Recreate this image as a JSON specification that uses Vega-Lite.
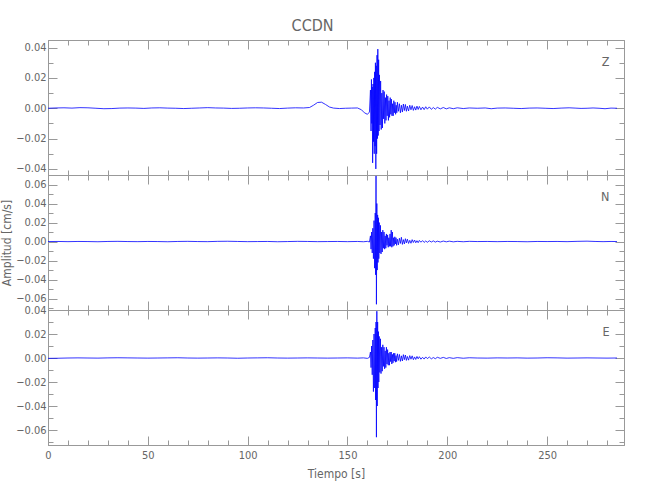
{
  "$schema": "https://vega.github.io/schema/vega-lite/v6.json",
  "padding": {"left": 0, "top": 18, "right": 5, "bottom": 5},
  "background": "white",
  "title": {"text": "CCDN", "fontSize": 16, "color": "#666666", "fontWeight": "normal", "font": "DejaVu Sans Condensed, sans-serif", "anchor": "middle", "offset": 5},
  "spacing": 0,
  "bounds": "flush",
  "config": {
    "view": {"stroke": "#999999", "strokeWidth": 1},
    "axis": {
      "labelColor": "#666666", "labelFontSize": 11, "labelFont": "DejaVu Sans Condensed, sans-serif",
      "titleFont": "DejaVu Sans Condensed, sans-serif", "titleColor": "#666666", "titleFontWeight": "normal", "titleFontSize": 12,
      "domainColor": "#999999", "tickColor": "#999999", "grid": false, "labelOverlap": false, "labelFlush": false
    },
    "axisX": {"minExtent": 0},
    "axisY": {"minExtent": 0}
  },
  "datasets": {
    "Z": [
      {"t":0,"v":0.0000},{"t":4,"v":0.0002},{"t":8,"v":0.0003},{"t":12,"v":0.0001},{"t":16,"v":0.0004},{"t":20,"v":0.0003},{"t":24,"v":0.0000},{"t":28,"v":-0.0003},{"t":32,"v":-0.0002},{"t":36,"v":0.0001},{"t":40,"v":0.0002},{"t":44,"v":0.0001},{"t":48,"v":-0.0001},{"t":52,"v":0.0002},{"t":56,"v":0.0003},{"t":60,"v":0.0001},{"t":64,"v":0.0000},{"t":68,"v":-0.0002},{"t":72,"v":0.0000},{"t":76,"v":0.0002},{"t":80,"v":0.0004},{"t":84,"v":0.0002},{"t":88,"v":0.0001},{"t":92,"v":-0.0001},{"t":96,"v":0.0000},{"t":100,"v":0.0002},{"t":104,"v":0.0003},{"t":108,"v":0.0002},{"t":112,"v":0.0000},{"t":116,"v":-0.0002},{"t":120,"v":0.0001},{"t":124,"v":0.0003},{"t":128,"v":0.0002},{"t":131,"v":0.0005},{"t":133,"v":0.0020},{"t":135,"v":0.0038},{"t":137,"v":0.0040},{"t":139,"v":0.0025},{"t":141,"v":0.0008},{"t":143,"v":0.0001},{"t":146,"v":-0.0002},{"t":149,"v":0.0000},{"t":152,"v":0.0001},{"t":155,"v":0.0002},{"t":157,"v":-0.0010},{"t":158.5,"v":-0.0030},{"t":160,"v":-0.0040},{"t":161,"v":-0.0025},
      {"t":161.5,"v":0.012},{"t":161.8,"v":-0.015},{"t":162.0,"v":0.019},{"t":162.2,"v":-0.010},{"t":162.4,"v":0.014},{"t":162.6,"v":-0.036},{"t":162.8,"v":0.016},{"t":163.0,"v":-0.022},{"t":163.2,"v":0.020},{"t":163.4,"v":-0.030},{"t":163.6,"v":0.024},{"t":163.8,"v":-0.025},{"t":164.0,"v":0.030},{"t":164.2,"v":-0.040},{"t":164.4,"v":0.028},{"t":164.6,"v":-0.030},{"t":164.8,"v":0.035},{"t":165.0,"v":-0.020},{"t":165.2,"v":0.039},{"t":165.4,"v":-0.018},{"t":165.6,"v":0.032},{"t":165.8,"v":-0.015},{"t":166.0,"v":0.022},{"t":166.3,"v":-0.011},{"t":166.6,"v":0.018},{"t":166.9,"v":-0.014},{"t":167.2,"v":0.010},{"t":167.5,"v":-0.013},{"t":167.8,"v":0.012},{"t":168.1,"v":-0.007},{"t":168.4,"v":0.011},{"t":168.7,"v":-0.010},{"t":169.0,"v":0.007},{"t":169.3,"v":-0.008},{"t":169.6,"v":0.009},{"t":169.9,"v":-0.005},{"t":170.2,"v":0.008},{"t":170.5,"v":-0.008},{"t":170.8,"v":0.005},{"t":171.1,"v":-0.006},{"t":171.4,"v":0.007},{"t":171.7,"v":-0.004},{"t":172.0,"v":0.006},{"t":172.3,"v":-0.005},{"t":172.6,"v":0.003},{"t":172.9,"v":-0.005},{"t":173.2,"v":0.005},{"t":173.5,"v":-0.003},{"t":173.8,"v":0.004},{"t":174.1,"v":-0.004},{"t":174.4,"v":0.002},{"t":174.7,"v":-0.003},{"t":175.0,"v":0.004},{"t":175.5,"v":-0.002},{"t":176.0,"v":0.003},{"t":176.5,"v":-0.003},{"t":177.0,"v":0.002},{"t":177.5,"v":-0.0025},{"t":178.0,"v":0.0028},{"t":178.5,"v":-0.0015},{"t":179.0,"v":0.0025},{"t":179.5,"v":-0.002},{"t":180.0,"v":0.0014},{"t":180.6,"v":-0.0018},{"t":181.2,"v":0.002},{"t":181.8,"v":-0.001},{"t":182.4,"v":0.0018},{"t":183.0,"v":-0.0014},{"t":183.6,"v":0.001},{"t":184.2,"v":-0.0012},{"t":184.8,"v":0.0014},{"t":185.4,"v":-0.0008},{"t":186.0,"v":0.0012},{"t":186.8,"v":-0.001},{"t":187.6,"v":0.0008},{"t":188.4,"v":-0.0009},{"t":189.2,"v":0.001},{"t":190.0,"v":-0.0006},{"t":191,"v":0.0009},{"t":192,"v":-0.0007},{"t":193,"v":0.0005},{"t":194,"v":-0.0006},{"t":195,"v":0.0006},{"t":196.5,"v":-0.0004},{"t":198,"v":0.0005},{"t":199.5,"v":-0.0004},{"t":201,"v":0.0003},{"t":203,"v":-0.0003},{"t":205,"v":0.0003},{"t":208,"v":-0.0002},{"t":211,"v":0.0002},{"t":215,"v":0.0000},{"t":219,"v":0.0002},{"t":222,"v":-0.0003},{"t":225,"v":0.0001},{"t":229,"v":0.0002},{"t":233,"v":0.0000},{"t":237,"v":-0.0002},{"t":241,"v":0.0001},{"t":245,"v":0.0002},{"t":249,"v":0.0000},{"t":253,"v":-0.0002},{"t":257,"v":0.0001},{"t":261,"v":0.0003},{"t":264,"v":0.0001},{"t":267,"v":-0.0001},{"t":270,"v":0.0000},{"t":273,"v":0.0002},{"t":276,"v":0.0000},{"t":279,"v":-0.0003},{"t":282,"v":0.0001},{"t":285,"v":0.0000}
    ],
    "N": [
      {"t":0,"v":0.0000},{"t":5,"v":0.0001},{"t":10,"v":-0.0001},{"t":15,"v":0.0001},{"t":20,"v":0.0000},{"t":25,"v":-0.0002},{"t":30,"v":0.0001},{"t":35,"v":0.0002},{"t":40,"v":0.0000},{"t":45,"v":-0.0001},{"t":50,"v":0.0001},{"t":55,"v":0.0000},{"t":60,"v":-0.0002},{"t":65,"v":0.0001},{"t":70,"v":0.0002},{"t":75,"v":0.0000},{"t":80,"v":-0.0001},{"t":85,"v":0.0002},{"t":90,"v":0.0003},{"t":95,"v":0.0001},{"t":100,"v":-0.0001},{"t":105,"v":0.0000},{"t":110,"v":0.0001},{"t":115,"v":-0.0002},{"t":120,"v":0.0000},{"t":125,"v":0.0002},{"t":130,"v":0.0001},{"t":135,"v":-0.0001},{"t":140,"v":0.0000},{"t":145,"v":0.0001},{"t":150,"v":-0.0001},{"t":155,"v":0.0001},{"t":158,"v":-0.0002},{"t":160,"v":0.0002},{"t":161,"v":-0.0005},
      {"t":161.5,"v":0.006},{"t":161.8,"v":-0.008},{"t":162.1,"v":0.010},{"t":162.4,"v":-0.012},{"t":162.7,"v":0.014},{"t":163.0,"v":-0.018},{"t":163.3,"v":0.022},{"t":163.6,"v":-0.028},{"t":163.9,"v":0.030},{"t":164.1,"v":-0.035},{"t":164.3,"v":0.069},{"t":164.5,"v":-0.066},{"t":164.7,"v":0.040},{"t":164.9,"v":-0.030},{"t":165.1,"v":0.028},{"t":165.3,"v":-0.022},{"t":165.5,"v":0.025},{"t":165.7,"v":-0.018},{"t":165.9,"v":0.020},{"t":166.2,"v":-0.012},{"t":166.5,"v":0.017},{"t":166.8,"v":-0.013},{"t":167.1,"v":0.010},{"t":167.4,"v":-0.011},{"t":167.7,"v":0.012},{"t":168.0,"v":-0.007},{"t":168.3,"v":0.010},{"t":168.6,"v":-0.008},{"t":168.9,"v":0.006},{"t":169.2,"v":-0.007},{"t":169.5,"v":0.008},{"t":169.8,"v":-0.004},{"t":170.1,"v":0.007},{"t":170.4,"v":-0.006},{"t":170.7,"v":0.004},{"t":171.0,"v":-0.005},{"t":171.3,"v":0.008},{"t":171.6,"v":-0.005},{"t":171.9,"v":0.012},{"t":172.2,"v":-0.006},{"t":172.5,"v":0.010},{"t":172.8,"v":-0.005},{"t":173.1,"v":0.004},{"t":173.4,"v":-0.004},{"t":173.7,"v":0.005},{"t":174.0,"v":-0.0025},{"t":174.3,"v":0.004},{"t":174.6,"v":-0.004},{"t":175.0,"v":0.0025},{"t":175.5,"v":-0.0035},{"t":176.0,"v":0.0035},{"t":176.5,"v":-0.002},{"t":177.0,"v":0.0045},{"t":177.5,"v":-0.003},{"t":178.0,"v":0.002},{"t":178.5,"v":-0.0025},{"t":179.0,"v":0.003},{"t":179.5,"v":-0.0014},{"t":180.0,"v":0.0025},{"t":180.6,"v":-0.002},{"t":181.2,"v":0.0013},{"t":181.8,"v":-0.0018},{"t":182.4,"v":0.002},{"t":183.0,"v":-0.001},{"t":183.6,"v":0.0016},{"t":184.2,"v":-0.0013},{"t":184.8,"v":0.0009},{"t":185.4,"v":-0.0012},{"t":186.0,"v":0.0012},{"t":186.8,"v":-0.0007},{"t":187.6,"v":0.001},{"t":188.4,"v":-0.0009},{"t":189.2,"v":0.0006},{"t":190,"v":-0.0008},{"t":191,"v":0.0008},{"t":192,"v":-0.0005},{"t":193,"v":0.0007},{"t":194,"v":-0.0006},{"t":195,"v":0.0004},{"t":196.5,"v":-0.0005},{"t":198,"v":0.0005},{"t":199.5,"v":-0.0003},{"t":201,"v":0.0004},{"t":203,"v":-0.0003},{"t":205,"v":0.0002},{"t":208,"v":-0.0002},{"t":211,"v":0.0002},{"t":215,"v":0.0000},{"t":220,"v":0.0001},{"t":225,"v":-0.0001},{"t":230,"v":0.0001},{"t":235,"v":0.0000},{"t":240,"v":-0.0002},{"t":245,"v":0.0001},{"t":250,"v":0.0000},{"t":255,"v":0.0001},{"t":260,"v":-0.0001},{"t":265,"v":0.0002},{"t":270,"v":0.0004},{"t":274,"v":0.0001},{"t":278,"v":-0.0001},{"t":282,"v":0.0001},{"t":285,"v":0.0000}
    ],
    "E": [
      {"t":0,"v":-0.0003},{"t":5,"v":-0.0002},{"t":10,"v":0.0000},{"t":15,"v":0.0001},{"t":20,"v":0.0000},{"t":25,"v":-0.0001},{"t":30,"v":0.0001},{"t":35,"v":0.0002},{"t":40,"v":0.0001},{"t":45,"v":0.0000},{"t":50,"v":-0.0001},{"t":55,"v":0.0000},{"t":60,"v":0.0001},{"t":65,"v":0.0002},{"t":70,"v":0.0000},{"t":75,"v":-0.0001},{"t":80,"v":0.0000},{"t":85,"v":0.0001},{"t":90,"v":0.0000},{"t":95,"v":-0.0002},{"t":100,"v":0.0000},{"t":105,"v":0.0001},{"t":110,"v":0.0002},{"t":115,"v":0.0000},{"t":120,"v":-0.0001},{"t":125,"v":0.0000},{"t":130,"v":0.0001},{"t":135,"v":0.0000},{"t":140,"v":-0.0001},{"t":145,"v":0.0000},{"t":150,"v":0.0001},{"t":155,"v":-0.0001},{"t":158,"v":0.0001},{"t":160,"v":-0.0003},{"t":161,"v":0.0005},
      {"t":161.5,"v":0.005},{"t":161.8,"v":-0.008},{"t":162.1,"v":0.010},{"t":162.4,"v":-0.014},{"t":162.7,"v":0.015},{"t":163.0,"v":-0.028},{"t":163.3,"v":0.020},{"t":163.6,"v":-0.025},{"t":163.9,"v":0.025},{"t":164.1,"v":-0.035},{"t":164.3,"v":0.030},{"t":164.5,"v":-0.066},{"t":164.7,"v":0.039},{"t":164.9,"v":-0.040},{"t":165.1,"v":0.030},{"t":165.3,"v":-0.025},{"t":165.5,"v":0.022},{"t":165.7,"v":-0.020},{"t":165.9,"v":0.018},{"t":166.2,"v":-0.012},{"t":166.5,"v":0.016},{"t":166.8,"v":-0.013},{"t":167.1,"v":0.009},{"t":167.4,"v":-0.011},{"t":167.7,"v":0.011},{"t":168.0,"v":-0.007},{"t":168.3,"v":0.009},{"t":168.6,"v":-0.009},{"t":168.9,"v":0.006},{"t":169.2,"v":-0.008},{"t":169.5,"v":0.009},{"t":169.8,"v":-0.005},{"t":170.1,"v":0.007},{"t":170.4,"v":-0.006},{"t":170.7,"v":0.004},{"t":171.0,"v":-0.006},{"t":171.3,"v":0.005},{"t":171.6,"v":-0.003},{"t":171.9,"v":0.005},{"t":172.2,"v":-0.005},{"t":172.5,"v":0.003},{"t":172.8,"v":-0.004},{"t":173.1,"v":0.004},{"t":173.4,"v":-0.0025},{"t":173.7,"v":0.004},{"t":174.0,"v":-0.0035},{"t":174.3,"v":0.002},{"t":174.6,"v":-0.003},{"t":175.0,"v":0.0035},{"t":175.5,"v":-0.002},{"t":176.0,"v":0.003},{"t":176.5,"v":-0.0028},{"t":177.0,"v":0.0018},{"t":177.5,"v":-0.0025},{"t":178.0,"v":0.0028},{"t":178.5,"v":-0.0014},{"t":179.0,"v":0.0025},{"t":179.5,"v":-0.002},{"t":180.0,"v":0.0013},{"t":180.6,"v":-0.0018},{"t":181.2,"v":0.002},{"t":181.8,"v":-0.001},{"t":182.4,"v":0.0018},{"t":183.0,"v":-0.0014},{"t":183.6,"v":0.0009},{"t":184.2,"v":-0.0012},{"t":184.8,"v":0.0013},{"t":185.4,"v":-0.0007},{"t":186.0,"v":0.0011},{"t":186.8,"v":-0.001},{"t":187.6,"v":0.0006},{"t":188.4,"v":-0.0009},{"t":189.2,"v":0.0009},{"t":190,"v":-0.0005},{"t":191,"v":0.0008},{"t":192,"v":-0.0007},{"t":193,"v":0.0004},{"t":194,"v":-0.0006},{"t":195,"v":0.0006},{"t":196.5,"v":-0.0003},{"t":198,"v":0.0005},{"t":199.5,"v":-0.0004},{"t":201,"v":0.0003},{"t":203,"v":-0.0003},{"t":205,"v":0.0003},{"t":208,"v":-0.0002},{"t":211,"v":0.0002},{"t":215,"v":0.0000},{"t":220,"v":-0.0001},{"t":225,"v":0.0001},{"t":230,"v":0.0000},{"t":235,"v":0.0001},{"t":240,"v":-0.0001},{"t":245,"v":0.0000},{"t":250,"v":0.0002},{"t":255,"v":0.0001},{"t":260,"v":-0.0001},{"t":265,"v":0.0000},{"t":270,"v":0.0001},{"t":275,"v":0.0000},{"t":280,"v":-0.0001},{"t":285,"v":0.0000}
    ]
  },
  "vconcat": [
    {
      "width": 576, "height": 135,
      "data": {"name": "Z"},
      "title": {"text": "Z", "anchor": "end", "orient": "top", "offset": -29, "dx": -15, "baseline": "top", "fontSize": 12.5, "fontWeight": "normal", "color": "#666666", "font": "DejaVu Sans Condensed, sans-serif"},
      "layer": [
        {
          "mark": {"type": "line", "color": "#0000ff", "strokeWidth": 0.8},
          "encoding": {
            "x": {"field": "t", "type": "quantitative", "scale": {"domain": [0, 288.5], "nice": false, "zero": false},
              "axis": {"orient": "bottom", "title": null, "labels": false, "values": [0,10,20,30,40,50,60,70,80,90,100,110,120,130,140,150,160,170,180,190,200,210,220,230,240,250,260,270,280],
                "tickSize": {"condition": {"test": "datum.value % 50 == 0", "value": -9}, "value": -5}}},
            "y": {"field": "v", "type": "quantitative", "scale": {"domain": [-0.044, 0.045], "nice": false, "zero": false},
              "axis": {"orient": "left", "title": null, "values": [-0.04,-0.03,-0.02,-0.01,0,0.01,0.02,0.03,0.04],
                "labelExpr": "abs(round(datum.value*100)) % 2 == 0 ? format(datum.value, '.2f') : ''",
                "labelPadding": 11,
                "tickSize": {"condition": {"test": "abs(round(datum.value*100)) % 2 == 0", "value": -9}, "value": -5}}}
          }
        },
        {
          "mark": {"type": "line", "opacity": 0},
          "encoding": {
            "x": {"field": "t", "type": "quantitative",
              "axis": {"orient": "top", "title": null, "labels": false, "values": [0,10,20,30,40,50,60,70,80,90,100,110,120,130,140,150,160,170,180,190,200,210,220,230,240,250,260,270,280],
                "tickSize": {"condition": {"test": "datum.value % 50 == 0", "value": -9}, "value": -5}}},
            "y": {"field": "v", "type": "quantitative",
              "axis": {"orient": "right", "title": null, "labels": false, "values": [-0.04,-0.03,-0.02,-0.01,0,0.01,0.02,0.03,0.04],
                "tickSize": {"condition": {"test": "abs(round(datum.value*100)) % 2 == 0", "value": -9}, "value": -5}}}
          }
        }
      ],
      "resolve": {"axis": {"x": "independent", "y": "independent"}}
    },
    {
      "width": 576, "height": 135,
      "data": {"name": "N"},
      "title": {"text": "N", "anchor": "end", "orient": "top", "offset": -34, "dx": -15, "baseline": "top", "fontSize": 12.5, "fontWeight": "normal", "color": "#666666", "font": "DejaVu Sans Condensed, sans-serif"},
      "layer": [
        {
          "mark": {"type": "line", "color": "#0000ff", "strokeWidth": 0.8},
          "encoding": {
            "x": {"field": "t", "type": "quantitative", "scale": {"domain": [0, 288.5], "nice": false, "zero": false},
              "axis": {"orient": "bottom", "title": null, "labels": false, "values": [0,10,20,30,40,50,60,70,80,90,100,110,120,130,140,150,160,170,180,190,200,210,220,230,240,250,260,270,280],
                "tickSize": {"condition": {"test": "datum.value % 50 == 0", "value": -9}, "value": -5}}},
            "y": {"field": "v", "type": "quantitative", "scale": {"domain": [-0.072, 0.07], "nice": false, "zero": false},
              "axis": {"orient": "left", "title": "Amplitud [cm/s]", "titlePadding": 2, "values": [-0.07,-0.06,-0.05,-0.04,-0.03,-0.02,-0.01,0,0.01,0.02,0.03,0.04,0.05,0.06,0.07],
                "labelExpr": "abs(round(datum.value*100)) % 2 == 0 ? format(datum.value, '.2f') : ''",
                "labelPadding": 11,
                "tickSize": {"condition": {"test": "abs(round(datum.value*100)) % 2 == 0", "value": -9}, "value": -5}}}
          }
        },
        {
          "mark": {"type": "line", "opacity": 0},
          "encoding": {
            "x": {"field": "t", "type": "quantitative",
              "axis": {"orient": "top", "title": null, "labels": false, "values": [0,10,20,30,40,50,60,70,80,90,100,110,120,130,140,150,160,170,180,190,200,210,220,230,240,250,260,270,280],
                "tickSize": {"condition": {"test": "datum.value % 50 == 0", "value": -9}, "value": -5}}},
            "y": {"field": "v", "type": "quantitative",
              "axis": {"orient": "right", "title": null, "labels": false, "values": [-0.07,-0.06,-0.05,-0.04,-0.03,-0.02,-0.01,0,0.01,0.02,0.03,0.04,0.05,0.06,0.07],
                "tickSize": {"condition": {"test": "abs(round(datum.value*100)) % 2 == 0", "value": -9}, "value": -5}}}
          }
        }
      ],
      "resolve": {"axis": {"x": "independent", "y": "independent"}}
    },
    {
      "width": 576, "height": 135,
      "data": {"name": "E"},
      "title": {"text": "E", "anchor": "end", "orient": "top", "offset": -34, "dx": -15, "baseline": "top", "fontSize": 12.5, "fontWeight": "normal", "color": "#666666", "font": "DejaVu Sans Condensed, sans-serif"},
      "layer": [
        {
          "mark": {"type": "line", "color": "#0000ff", "strokeWidth": 0.8},
          "encoding": {
            "x": {"field": "t", "type": "quantitative", "scale": {"domain": [0, 288.5], "nice": false, "zero": false},
              "axis": {"orient": "bottom", "title": "Tiempo [s]", "titlePadding": 4, "values": [0,10,20,30,40,50,60,70,80,90,100,110,120,130,140,150,160,170,180,190,200,210,220,230,240,250,260,270,280],
                "labelExpr": "datum.value % 50 == 0 ? datum.label : ''",
                "labelPadding": 13,
                "tickSize": {"condition": {"test": "datum.value % 50 == 0", "value": -9}, "value": -5}}},
            "y": {"field": "v", "type": "quantitative", "scale": {"domain": [-0.0725, 0.04], "nice": false, "zero": false},
              "axis": {"orient": "left", "title": null, "values": [-0.07,-0.06,-0.05,-0.04,-0.03,-0.02,-0.01,0,0.01,0.02,0.03,0.04],
                "labelExpr": "abs(round(datum.value*100)) % 2 == 0 ? format(datum.value, '.2f') : ''",
                "labelPadding": 11,
                "tickSize": {"condition": {"test": "abs(round(datum.value*100)) % 2 == 0", "value": -9}, "value": -5}}}
          }
        },
        {
          "mark": {"type": "line", "opacity": 0},
          "encoding": {
            "x": {"field": "t", "type": "quantitative",
              "axis": {"orient": "top", "title": null, "labels": false, "values": [0,10,20,30,40,50,60,70,80,90,100,110,120,130,140,150,160,170,180,190,200,210,220,230,240,250,260,270,280],
                "tickSize": {"condition": {"test": "datum.value % 50 == 0", "value": -9}, "value": -5}}},
            "y": {"field": "v", "type": "quantitative",
              "axis": {"orient": "right", "title": null, "labels": false, "values": [-0.07,-0.06,-0.05,-0.04,-0.03,-0.02,-0.01,0,0.01,0.02,0.03,0.04],
                "tickSize": {"condition": {"test": "abs(round(datum.value*100)) % 2 == 0", "value": -9}, "value": -5}}}
          }
        }
      ],
      "resolve": {"axis": {"x": "independent", "y": "independent"}}
    }
  ]
}
